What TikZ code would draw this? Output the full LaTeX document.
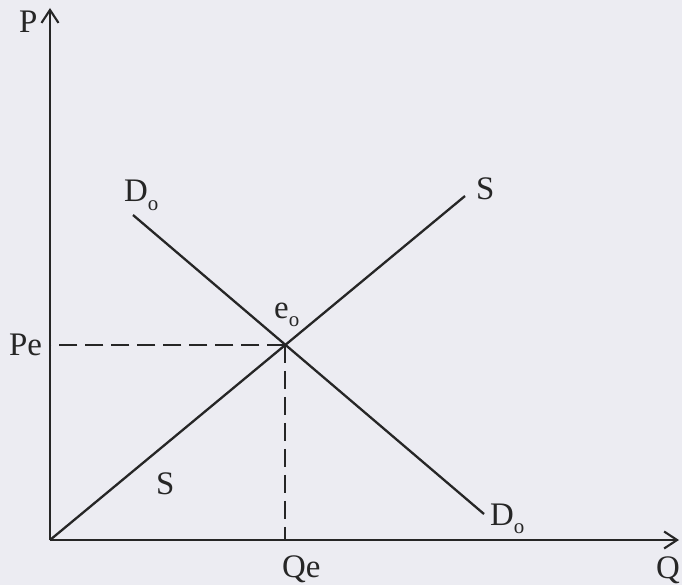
\documentclass[tikz,border=0pt]{standalone}
\usepackage{fontspec}
\setmainfont{Liberation Serif}
\usetikzlibrary{arrows.meta,intersections}
\newcommand\lowsub[1]{\raisebox{-0.55ex}{\fontsize{21}{21}\selectfont #1}}
\begin{document}
\begin{tikzpicture}[x=1bp,y=-1bp,
  ink/.style={draw=black!85, line width=2.3bp},
  axis/.style={ink, -{Straight Barb[length=13bp,width=17bp,line width=2.1bp]}},
  guide/.style={ink, line width=2bp, dash pattern=on 18bp off 8bp},
  lbl/.style={anchor=base west, inner sep=0pt, font=\fontsize{33}{33}\selectfont, text=black!85}]
\useasboundingbox (0,0) rectangle (682,585);
\fill[fill={rgb,255:red,236;green,236;blue,242}] (0,0) rectangle (682,585);
% axes
\coordinate (O) at (50,540);
\coordinate (ytop) at (50,8);
\coordinate (xend) at (679,540);
\draw[axis] (O) -- (ytop);
\draw[axis] (O) -- (xend);
% curves
\coordinate (S2) at (465,196);
\coordinate (D1) at (133,215);
\coordinate (D2) at (484,514);
\draw[ink, name path=supply] (O) -- (S2);
\draw[ink, name path=demand] (D1) -- (D2);
\path[name intersections={of=supply and demand, by=E}];
\draw[guide] (E) -- (E -| O);
\draw[guide] (E) -- (E |- O);
% labels
\node[lbl] (P) at (19,33) {P};
\node[lbl] (Q) at (656,578) {Q};
\node[lbl] (Dtop) at (124,202) {D\lowsub{o}};
\node[lbl] (Stop) at (476,200) {S};
\node[lbl] (eo) at (274,318) {e\lowsub{o}};
\node[lbl] (Pe) at (9,355) {Pe};
\node[lbl] (Sbot) at (156,494) {S};
\node[lbl] (Dbot) at (490,525) {D\lowsub{o}};
\node[lbl] (Qe) at (282,577) {Qe};
\end{tikzpicture}
\end{document}
